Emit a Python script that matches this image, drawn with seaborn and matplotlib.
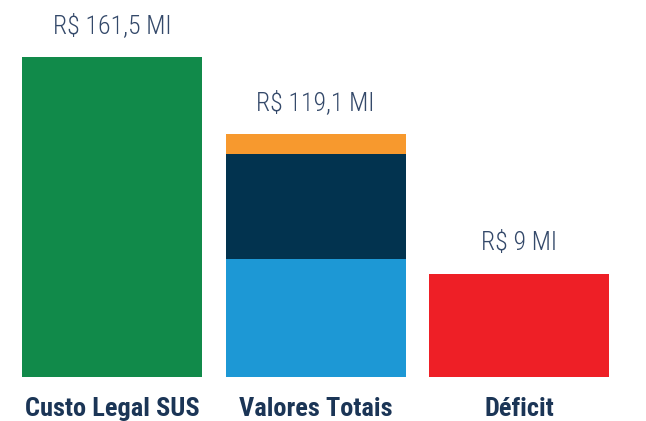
import numpy as np
import pandas as pd
import matplotlib
matplotlib.use("Agg")
import matplotlib.pyplot as plt
import seaborn as sns
from matplotlib import font_manager

# dados (alturas, escala livre)
categorias = ["Custo Legal SUS", "Valores Totais", "Déficit"]
base = [320, 118, 103]          # verde / azul claro / vermelho
meio = [0, 105, 0]              # azul escuro
topo = [0, 20, 0]               # laranja
rotulos = ["R$ 161,5 MI", "R$ 119,1 MI", "R$ 9 MI"]

cores_base = ["#118a4a", "#1d98d5", "#ee1f26"]
cor_meio = "#02334f"
cor_topo = "#f7992e"

sns.set_style("white")
nomes = set(f.name for f in font_manager.fontManager.ttflist)
fam = [f for f in ["Liberation Sans Narrow", "Roboto Condensed", "Roboto", "DejaVu Sans"] if f in nomes]
plt.rcParams["font.family"] = fam

df = pd.DataFrame({"cat": categorias, "base": base, "meio": meio, "topo": topo})
df["c2"] = df["base"] + df["meio"]
df["c3"] = df["c2"] + df["topo"]

fig = plt.figure(figsize=(6.46, 4.21), dpi=100)
ax = fig.add_axes([10.25 / 646, 44 / 421, 610.5 / 646, 377 / 421])

w = 180 / 203.5
sns.barplot(data=df, x="cat", y="c3", color=cor_topo, width=w, ax=ax, saturation=1, linewidth=0)
sns.barplot(data=df, x="cat", y="c2", color=cor_meio, width=w, ax=ax, saturation=1, linewidth=0)
sns.barplot(data=df, x="cat", y="base", hue="cat", palette=cores_base, width=w,
            ax=ax, saturation=1, legend=False, linewidth=0)

for i, (t, r) in enumerate(zip(df["c3"], rotulos)):
    ax.text(i, t + 31, r, ha="center", va="center", fontsize=18.5, fontweight="light",
            color="#34496a")

for i, c in enumerate(categorias):
    ax.text(i, -32, c, ha="center", va="center", fontsize=19, fontweight="bold",
            color="#1b3556")

ax.set_xlim(-0.5, 2.5)
ax.set_ylim(0, 377)
ax.set_xlabel("")
ax.set_ylabel("")
ax.set_xticks([])
ax.set_yticks([])
sns.despine(left=True, bottom=True)
plt.savefig("out.png", dpi=100)
